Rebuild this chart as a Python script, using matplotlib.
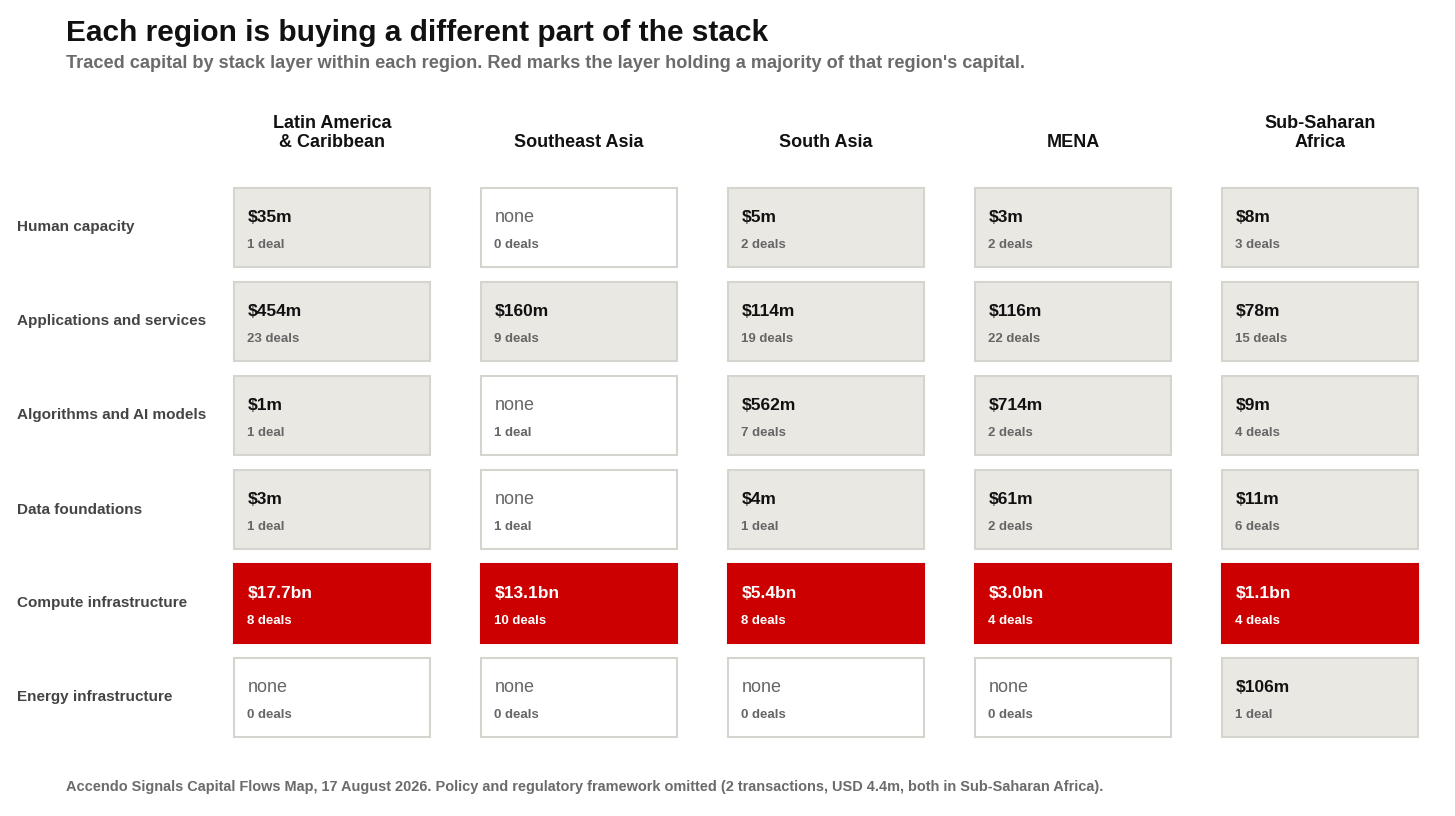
import matplotlib
matplotlib.use("Agg")
import matplotlib.pyplot as plt
from matplotlib.patches import Rectangle

plt.rcParams['font.family'] = ['Liberation Sans', 'DejaVu Sans']

regions = ["Latin America\n& Caribbean", "Southeast Asia", "South Asia", "MENA", "Sub-Saharan\nAfrica"]
layers = ["Human capacity", "Applications and services", "Algorithms and AI models",
          "Data foundations", "Compute infrastructure", "Energy infrastructure"]

# capital in USD millions, rows = layers, cols = regions
capital_latam = [35, 454, 1, 3, 17700, 0]
capital_sea = [0, 160, 0, 0, 13100, 0]
capital_sasia = [5, 114, 562, 4, 5400, 0]
capital_mena = [3, 116, 714, 61, 3000, 0]
capital_ssa = [8, 78, 9, 11, 1100, 106]

deals_latam = [1, 23, 1, 1, 8, 0]
deals_sea = [0, 9, 1, 1, 10, 0]
deals_sasia = [2, 19, 7, 1, 8, 0]
deals_mena = [2, 22, 2, 2, 4, 0]
deals_ssa = [3, 15, 4, 6, 4, 1]

capital = [capital_latam, capital_sea, capital_sasia, capital_mena, capital_ssa]
deals = [deals_latam, deals_sea, deals_sasia, deals_mena, deals_ssa]

title = "Each region is buying a different part of the stack"
subtitle = ("Traced capital by stack layer within each region. Red marks the layer holding "
            "a majority of that region's capital.")
footer = ("Accendo Signals Capital Flows Map, 17 August 2026. Policy and regulatory framework "
          "omitted (2 transactions, USD 4.4m, both in Sub-Saharan Africa).")

RED = "#CC0000"
GREY_FILL = "#EAE8E3"
EDGE = "#D5D4CE"

W, H = 1455, 816
fig = plt.figure(figsize=(W / 100, H / 100), dpi=100)
ax = fig.add_axes([0, 0, 1, 1])
ax.set_xlim(0, W)
ax.set_ylim(H, 0)
ax.axis("off")


def fmt(v):
    if v == 0:
        return "none"
    if v >= 1000:
        return f"${v/1000:.1f}bn"
    return f"${v:.0f}m"


col_x0, col_step, cell_w = 233, 247, 198
row_y0, row_step, cell_h = 187, 94, 81

for ci, reg in enumerate(regions):
    cx = col_x0 + ci * col_step
    ax.text(cx + cell_w / 2, 147, reg, ha="center", va="baseline", fontsize=13,
            fontweight="bold", color="#111111", linespacing=1.12)
    total = sum(capital[ci])
    for ri in range(len(layers)):
        ry = row_y0 + ri * row_step
        v = capital[ci][ri]
        d = deals[ci][ri]
        if v > 0 and v > total / 2:
            face, edge, vc, dc, vw = RED, RED, "white", "white", "bold"
        elif v == 0:
            face, edge, vc, dc, vw = "white", EDGE, "#666666", "#666666", "normal"
        else:
            face, edge, vc, dc, vw = GREY_FILL, EDGE, "#111111", "#666666", "bold"
        ax.add_patch(Rectangle((cx + 1, ry + 1), cell_w - 2, cell_h - 2, facecolor=face,
                               edgecolor=edge, linewidth=1.5))
        ax.text(cx + 15, ry + 30, fmt(v), ha="left", va="center",
                fontsize=12.5 if v else 13, fontweight=vw, color=vc)
        ax.text(cx + 14, ry + 58, f"{d} deal" + ("" if d == 1 else "s"), ha="left",
                va="center", fontsize=9.5, fontweight="bold", color=dc)

for ri, lay in enumerate(layers):
    ry = row_y0 + ri * row_step
    ax.text(17, ry + 40.5, lay, ha="left", va="center", fontsize=11, fontweight="bold",
            color="#444444")

ax.text(66, 33, title, ha="left", va="center", fontsize=21.5, fontweight="bold", color="#111111")
ax.text(66, 63, subtitle, ha="left", va="center", fontsize=13.1, fontweight="bold", color="#6b6b6b")
ax.text(66, 787, footer, ha="left", va="center", fontsize=10.45, fontweight="bold", color="#6b6b6b")

fig.savefig("out.png", dpi=100, facecolor="white")
